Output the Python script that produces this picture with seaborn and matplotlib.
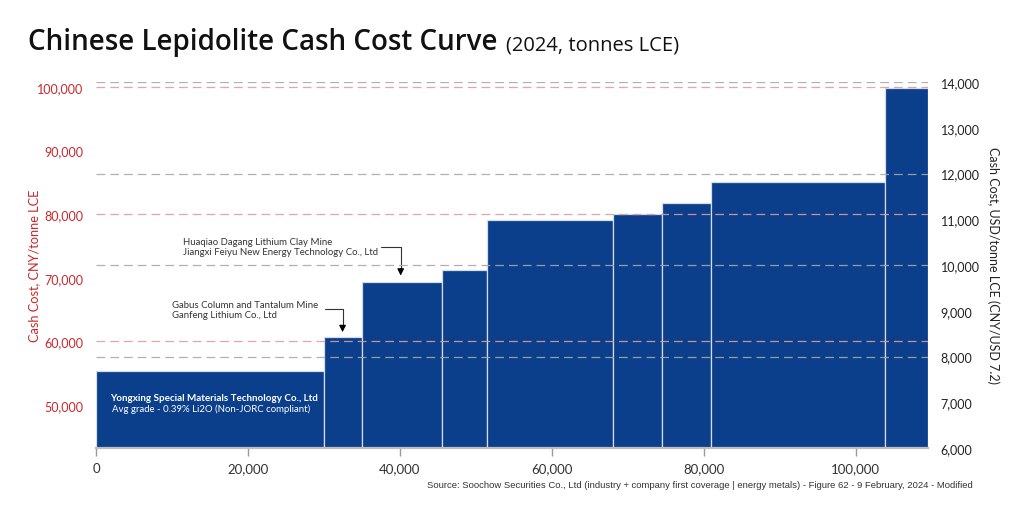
import matplotlib
matplotlib.use("Agg")
import matplotlib.pyplot as plt
import seaborn as sns
import pandas as pd

sns.set_theme(style="white")
plt.rcParams['font.family'] = ['Lato', 'DejaVu Sans']

# supply segments (tonnes LCE) and cash cost (CNY/tonne LCE)
seg_start = [0, 30000, 35000, 45500, 51500, 68000, 74500, 81000, 103800]
seg_end = [30000, 35000, 45500, 51500, 68000, 74500, 81000, 103800, 109500]
cost_cny = [55300, 60700, 69300, 71200, 79100, 80000, 81800, 85000, 99800]
fx = 7.2

df = pd.DataFrame({'start': seg_start, 'end': seg_end, 'cost': cost_cny})
df['width'] = df['end'] - df['start']

fig = plt.figure(figsize=(10.24, 5.10), dpi=100)
ax = fig.add_axes([96 / 1024, 61 / 510, 832 / 1024, 366 / 510])
ax2 = ax.twinx()

usd_lo, usd_hi = 6000, 14000
ax.set_ylim(usd_lo * fx, usd_hi * fx)
ax2.set_ylim(usd_lo, usd_hi)
ax.set_xlim(0, df['end'].max())

ax.bar(df['start'], df['cost'], width=df['width'], align='edge',
       color='#0b3f8b', edgecolor='#d4dcea', linewidth=0.9, zorder=2)

# dashed guides
for v in [60000, 80000, 100000]:
    ax.axhline(v, color='#e49a9a', lw=0.9, dashes=(7, 4), zorder=3, alpha=0.9)
for v in [8000, 10000, 12000, 14000]:
    ax2.axhline(v, color='#a8a8a8', lw=0.9, dashes=(7, 4), zorder=3, alpha=0.9)

# axes styling
for a in (ax, ax2):
    for s in ['left', 'right', 'top']:
        a.spines[s].set_visible(False)
ax2.spines['bottom'].set_visible(False)
ax.spines['bottom'].set_color('#bdbdbd')
ax.spines['bottom'].set_linewidth(1.6)

ax.set_xticks(range(0, 100001, 20000))
ax.set_xticklabels([f"{v:,}" for v in range(0, 100001, 20000)], fontsize=9.5, color='#333333')
ax.tick_params(axis='x', length=6, width=1, color='#9a9a9a', pad=4, bottom=True)

ax.set_yticks(range(50000, 100001, 10000))
ax.set_yticklabels([f"{v:,}" for v in range(50000, 100001, 10000)], fontsize=9, color='#c8282c')
ax.tick_params(axis='y', length=0, pad=9)
ax.set_ylabel('Cash Cost, CNY/tonne LCE', color='#c8282c', fontsize=9.2, labelpad=-2)

ax2.set_yticks(range(6000, 14001, 1000))
ax2.set_yticklabels([f"{v:,}" for v in range(6000, 14001, 1000)], fontsize=9, color='#222222')
ax2.tick_params(axis='y', length=0, pad=9)
ax2.set_ylabel('Cash Cost, USD/tonne LCE (CNY/USD 7.2)', rotation=270, fontsize=9,
               color='#222222', labelpad=14)
ax.grid(False)
ax2.grid(False)

# annotations
ax.text(1800, 50700, 'Yongxing Special Materials Technology Co., Ltd',
        color='white', fontsize=7.1, fontweight='bold', zorder=5)
ax.text(2100, 49000, 'Avg grade - 0.39% Li2O (Non-JORC compliant)',
        color='white', fontsize=6.9, zorder=5)

ax.text(10000, 66500, 'Gabus Column and Tantalum Mine\nGanfeng Lithium Co., Ltd',
        fontsize=6.9, color='#333333', linespacing=1.15, va='top', zorder=5)
ax.plot([30200, 32450, 32450], [65000, 65000, 62200], color='#333333', lw=0.8, zorder=5)
ax.annotate('', xy=(32450, 61000), xytext=(32450, 62800),
            arrowprops=dict(arrowstyle='-|>', color='black', lw=0.8, mutation_scale=10), zorder=5)

ax.text(11400, 76400, 'Huaqiao Dagang Lithium Clay Mine\nJiangxi Feiyu New Energy Technology Co., Ltd',
        fontsize=6.9, color='#333333', linespacing=1.15, va='top', zorder=5)
ax.plot([37500, 40100, 40100], [74800, 74800, 71500], color='#333333', lw=0.8, zorder=5)
ax.annotate('', xy=(40100, 69900), xytext=(40100, 71900),
            arrowprops=dict(arrowstyle='-|>', color='black', lw=0.8, mutation_scale=10), zorder=5)

# titles
fig.text(28 / 1024, 1 - 50 / 510, 'Chinese Lepidolite Cash Cost Curve', fontsize=20,
         fontweight='semibold', color='#111111', family=['Open Sans', 'DejaVu Sans'])
fig.text(506 / 1024, 1 - 50 / 510, '(2024, tonnes LCE)', fontsize=14.5, color='#111111',
         family=['Open Sans', 'DejaVu Sans'])

fig.text(973 / 1024, 1 - 488 / 510,
         'Source: Soochow Securities Co., Ltd (industry + company first coverage | energy metals) - Figure 62 - 9 February, 2024 - Modified',
         fontsize=6.8, ha='right', color='#333333',
         family=['Liberation Sans Narrow', 'Liberation Sans', 'DejaVu Sans'])

fig.savefig('out.png', dpi=100, facecolor='white')
